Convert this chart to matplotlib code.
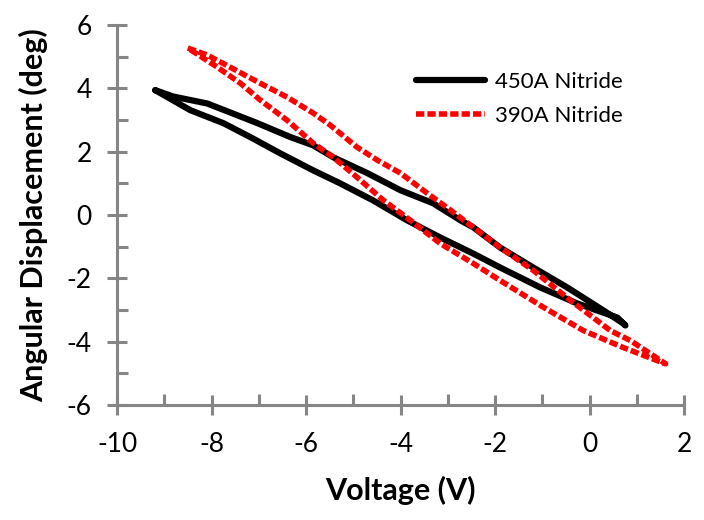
import matplotlib.pyplot as plt
from matplotlib.ticker import MultipleLocator

# 450A nitride loop: upper branch left->right, then lower branch right->left
v_450 = [-9.19, -8.81, -8.09, -7.61, -7.03, -6.33, -5.85, -5.42, -4.70, -4.00,
         -3.31, -2.73, -2.46, -1.89, -1.19, -0.47, 0.30, 0.72,
         0.76, 0.59, -0.25, -1.04, -1.89, -2.46, -3.16, -3.86, -4.58, -5.28,
         -5.85, -6.55, -7.18, -7.75, -8.45, -9.19]
a_450 = [3.94, 3.74, 3.52, 3.24, 2.90, 2.46, 2.20, 1.82, 1.32, 0.78,
         0.37, -0.17, -0.39, -1.03, -1.66, -2.29, -3.02, -3.43,
         -3.49, -3.24, -2.80, -2.29, -1.66, -1.22, -0.71, -0.17, 0.46, 1.00,
         1.41, 1.95, 2.46, 2.90, 3.31, 3.94]

# 390A nitride loop
v_390 = [-8.50, -8.09, -7.61, -6.97, -6.40, -5.85, -5.49, -4.92, -4.49, -4.00,
         -3.43, -2.94, -2.37, -1.89, -1.19, -0.40, 0.44, 0.87, 1.61,
         0.72, -0.13, -0.97, -1.89, -2.46, -3.16, -3.79, -4.36, -4.92, -5.42,
         -5.85, -6.40, -6.97, -7.39, -7.88, -8.50]
a_390 = [5.27, 5.05, 4.67, 4.16, 3.72, 3.22, 2.84, 2.14, 1.73, 1.32,
         0.68, 0.15, -0.49, -1.03, -1.75, -2.70, -3.65, -3.97, -4.70,
         -4.19, -3.65, -2.92, -2.07, -1.53, -0.90, -0.17, 0.46, 1.19, 1.82,
         2.27, 2.99, 3.63, 4.16, 4.67, 5.27]

labels = ['450A Nitride', '390A Nitride']

plt.rcParams['font.family'] = ['Lato', 'DejaVu Sans']
plt.rcParams['axes.unicode_minus'] = False

fig = plt.figure(figsize=(7.04, 5.2), dpi=100)
ax = fig.add_axes([0.1662, 0.2212, 0.8054, 0.7308])

ax.plot(v_450, a_450, color='black', lw=4.5, solid_joinstyle='round',
        solid_capstyle='round', label=labels[0])
ax.plot(v_390, a_390, color='red', lw=4, linestyle=(0, (1.5, 0.55)),
        dash_capstyle='butt', label=labels[1])

ax.set_xlim(-10, 2)
ax.set_ylim(-6, 6)
ax.xaxis.set_major_locator(MultipleLocator(2))
ax.xaxis.set_minor_locator(MultipleLocator(1))
ax.yaxis.set_major_locator(MultipleLocator(2))
ax.yaxis.set_minor_locator(MultipleLocator(1))

gray = '#868686'
for side in ['top', 'right']:
    ax.spines[side].set_visible(False)
for side in ['left', 'bottom']:
    ax.spines[side].set_color(gray)
    ax.spines[side].set_linewidth(2.2)

ax.tick_params(which='major', direction='inout', length=14.5, width=2.2,
               color=gray, labelsize=19)
ax.tick_params(axis='x', which='major', pad=12)
ax.tick_params(axis='y', which='major', pad=11)
ax.tick_params(which='minor', direction='in', length=8, width=2.2, color=gray)

ax.set_xlabel('Voltage (V)', fontsize=22, fontweight='bold', labelpad=14)
ax.set_ylabel('Angular Displacement (deg)', fontsize=22, fontweight='bold',
              labelpad=13)

ax.legend(loc='upper left', bbox_to_anchor=(0.591, 0.862),
          bbox_transform=fig.transFigure, frameon=False, fontsize=16,
          handlelength=3.1, handletextpad=0.45, labelspacing=0.65,
          borderpad=0, borderaxespad=0)

fig.savefig('out.png', dpi=100)
